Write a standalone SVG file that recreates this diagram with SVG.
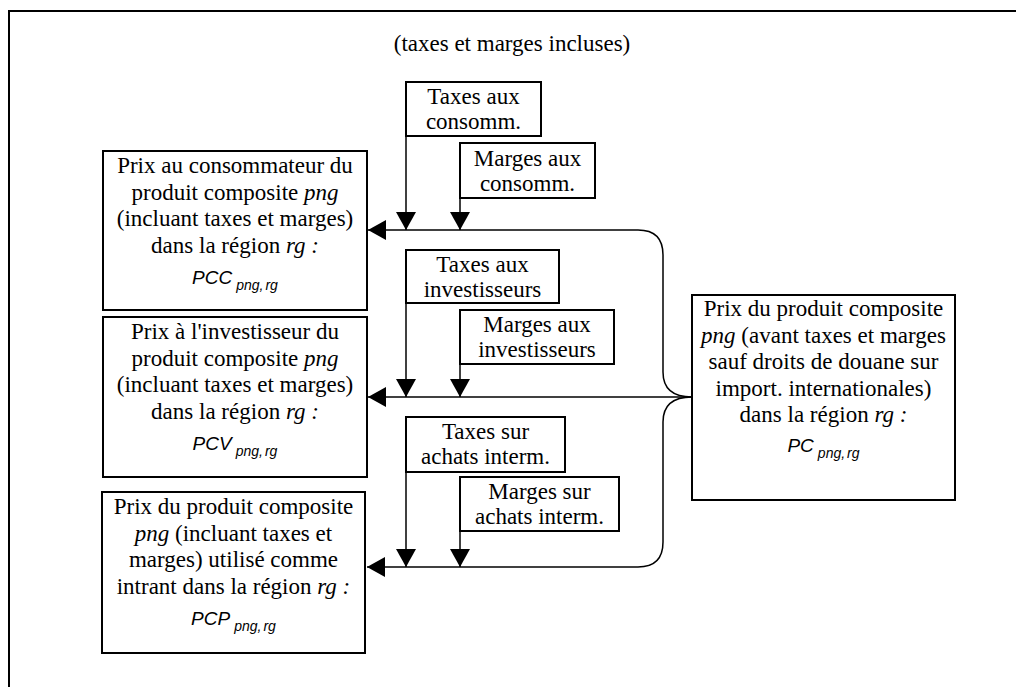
<svg xmlns="http://www.w3.org/2000/svg" width="1016" height="687" viewBox="0 0 1016 687">
  <style>
    .box { fill: #fff; stroke: #000; stroke-width: 2; }
    .t { font-family: "Liberation Serif", "Times New Roman", serif; font-size: 23px; fill: #000; text-anchor: middle; }
    .i { font-style: italic; }
    .f { font-family: "Liberation Sans", Arial, sans-serif; font-style: italic; font-size: 19px; fill: #000; text-anchor: middle; }
    .sub { font-size: 14px; }
    .ln { fill: none; stroke: #000; stroke-width: 1.5; }
    .frame { fill: none; stroke: #000; stroke-width: 2; }
  </style>
  <defs>
    <marker id="ah" markerUnits="userSpaceOnUse" markerWidth="18" markerHeight="20" refX="18" refY="10" orient="auto">
      <path d="M0,0 L18,10 L0,20 z" fill="#000"/>
    </marker>
  </defs>
  <rect width="1016" height="687" fill="#fff"/>

  <!-- outer frame (top and left edges) -->
  <path class="frame" d="M9,687 V11 H1016"/>
  <text class="t" x="512" y="51" font-size="25">(taxes et marges incluses)</text>

  <!-- connectors -->
  <g id="connectors">
    <!-- vertical feeds -->
    <line class="ln" x1="406" y1="136" x2="406" y2="230" marker-end="url(#ah)"/>
    <line class="ln" x1="460" y1="198" x2="460" y2="230" marker-end="url(#ah)"/>
    <line class="ln" x1="406" y1="303" x2="406" y2="397" marker-end="url(#ah)"/>
    <line class="ln" x1="460" y1="364" x2="460" y2="397" marker-end="url(#ah)"/>
    <line class="ln" x1="406" y1="472" x2="406" y2="567" marker-end="url(#ah)"/>
    <line class="ln" x1="460" y1="531" x2="460" y2="567" marker-end="url(#ah)"/>
    <!-- horizontal arrows to the price boxes -->
    <line class="ln" x1="638" y1="230" x2="368" y2="230" marker-end="url(#ah)"/>
    <line class="ln" x1="692" y1="397" x2="368" y2="397" marker-end="url(#ah)"/>
    <line class="ln" x1="638" y1="567" x2="367" y2="567" marker-end="url(#ah)"/>
    <!-- brace -->
    <path class="ln" d="M638,230 Q663,230 663,255 V372 Q663,397 692,397 Q663,397 663,422 V542 Q663,567 638,567"/>
  </g>

  <g id="taxes-consomm">
    <rect class="box" x="406" y="82" width="135" height="54"/>
    <text class="t" x="473.5" y="104">Taxes aux</text>
    <text class="t" x="473.5" y="129">consomm.</text>
  </g>
  <g id="marges-consomm">
    <rect class="box" x="460" y="143" width="135" height="55"/>
    <text class="t" x="527.5" y="166">Marges aux</text>
    <text class="t" x="527.5" y="191">consomm.</text>
  </g>
  <g id="taxes-invest">
    <rect class="box" x="406" y="250" width="153" height="53"/>
    <text class="t" x="482.5" y="272">Taxes aux</text>
    <text class="t" x="482.5" y="297">investisseurs</text>
  </g>
  <g id="marges-invest">
    <rect class="box" x="460" y="310" width="154" height="54"/>
    <text class="t" x="537" y="332">Marges aux</text>
    <text class="t" x="537" y="357">investisseurs</text>
  </g>
  <g id="taxes-interm">
    <rect class="box" x="406" y="417" width="159" height="55"/>
    <text class="t" x="485.5" y="439">Taxes sur</text>
    <text class="t" x="485.5" y="464">achats interm.</text>
  </g>
  <g id="marges-interm">
    <rect class="box" x="460" y="477" width="159" height="54"/>
    <text class="t" x="539.5" y="499">Marges sur</text>
    <text class="t" x="539.5" y="524">achats interm.</text>
  </g>

  <g id="pcc">
    <rect class="box" x="103" y="151" width="264" height="159"/>
    <text class="t" x="235" y="173">Prix au consommateur du</text>
    <text class="t" x="235" y="199.5">produit composite <tspan class="i">png</tspan></text>
    <text class="t" x="235" y="226">(incluant taxes et marges)</text>
    <text class="t" x="235" y="252.5">dans la région <tspan class="i">rg :</tspan></text>
    <text class="f" x="235" y="284">PCC<tspan class="sub" dx="4" dy="6">png</tspan><tspan class="sub">,</tspan><tspan class="sub" dx="2">rg</tspan></text>
  </g>
  <g id="pcv">
    <rect class="box" x="103" y="317" width="264" height="160"/>
    <text class="t" x="235" y="339">Prix à l'investisseur du</text>
    <text class="t" x="235" y="365.5">produit composite <tspan class="i">png</tspan></text>
    <text class="t" x="235" y="392">(incluant taxes et marges)</text>
    <text class="t" x="235" y="418.5">dans la région <tspan class="i">rg :</tspan></text>
    <text class="f" x="235" y="450">PCV<tspan class="sub" dx="4" dy="6">png</tspan><tspan class="sub">,</tspan><tspan class="sub" dx="2">rg</tspan></text>
  </g>
  <g id="pcp">
    <rect class="box" x="102" y="492" width="263" height="161"/>
    <text class="t" x="233.5" y="514">Prix du produit composite</text>
    <text class="t" x="233.5" y="540.5"><tspan class="i">png</tspan> (incluant taxes et</text>
    <text class="t" x="233.5" y="567">marges) utilisé comme</text>
    <text class="t" x="233.5" y="593.5">intrant dans la région <tspan class="i">rg :</tspan></text>
    <text class="f" x="233.5" y="625">PCP<tspan class="sub" dx="4" dy="6">png</tspan><tspan class="sub">,</tspan><tspan class="sub" dx="2">rg</tspan></text>
  </g>
  <g id="pc">
    <rect class="box" x="692" y="295" width="263" height="205"/>
    <text class="t" x="823.5" y="316">Prix du produit composite</text>
    <text class="t" x="823.5" y="342.5"><tspan class="i">png</tspan> (avant taxes et marges</text>
    <text class="t" x="823.5" y="369">sauf droits de douane sur</text>
    <text class="t" x="823.5" y="395.5">import. internationales)</text>
    <text class="t" x="823.5" y="422">dans la région <tspan class="i">rg :</tspan></text>
    <text class="f" x="823.5" y="452">PC<tspan class="sub" dx="4" dy="6">png</tspan><tspan class="sub">,</tspan><tspan class="sub" dx="2">rg</tspan></text>
  </g>
</svg>
